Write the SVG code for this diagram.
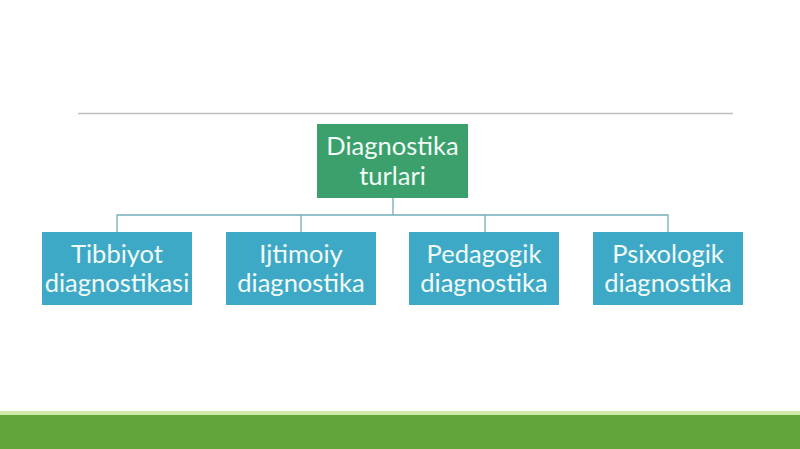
<svg xmlns="http://www.w3.org/2000/svg" width="800" height="449" viewBox="0 0 800 449">
<style>
.box{stroke:none}
.root{fill:#3ba06c}
.child{fill:#3ea9c7}
.t{font-family:Lato,"Open Sans","DejaVu Sans",sans-serif;font-size:25.5px;fill:#f2fbf8;text-anchor:middle}
.conn{stroke:#72adb9;stroke-width:1.3;fill:none}
</style>
<rect width="800" height="449" fill="#ffffff"/>
<line x1="78" y1="113.5" x2="733" y2="113.5" stroke="#bfbfbf" stroke-width="1.5"/>
<rect x="0" y="411" width="800" height="4" fill="#cfe9a6"/>
<rect x="0" y="415" width="800" height="34" fill="#62a63b"/>
<g id="connectors">
<path class="conn" d="M393,198 V215 M117,232 V215 H668 V232 M301,215 V232 M485,215 V232"/>
</g>
<g id="root">
<rect class="box root" x="317" y="124" width="151" height="74"/>
<text class="t" x="392.5" y="155">Diagnostika</text>
<text class="t" x="392.5" y="185">turlari</text>
</g>
<g id="n1">
<rect class="box child" x="42" y="232" width="150" height="73"/>
<text class="t" x="117" y="263">Tibbiyot</text>
<text class="t" x="117" y="292">diagnostikasi</text>
</g>
<g id="n2">
<rect class="box child" x="226" y="232" width="150" height="73"/>
<text class="t" x="301" y="263">Ijtimoiy</text>
<text class="t" x="301" y="292">diagnostika</text>
</g>
<g id="n3">
<rect class="box child" x="409" y="232" width="150" height="73"/>
<text class="t" x="484" y="263">Pedagogik</text>
<text class="t" x="484" y="292">diagnostika</text>
</g>
<g id="n4">
<rect class="box child" x="593" y="232" width="150" height="73"/>
<text class="t" x="668" y="263">Psixologik</text>
<text class="t" x="668" y="292">diagnostika</text>
</g>
</svg>
